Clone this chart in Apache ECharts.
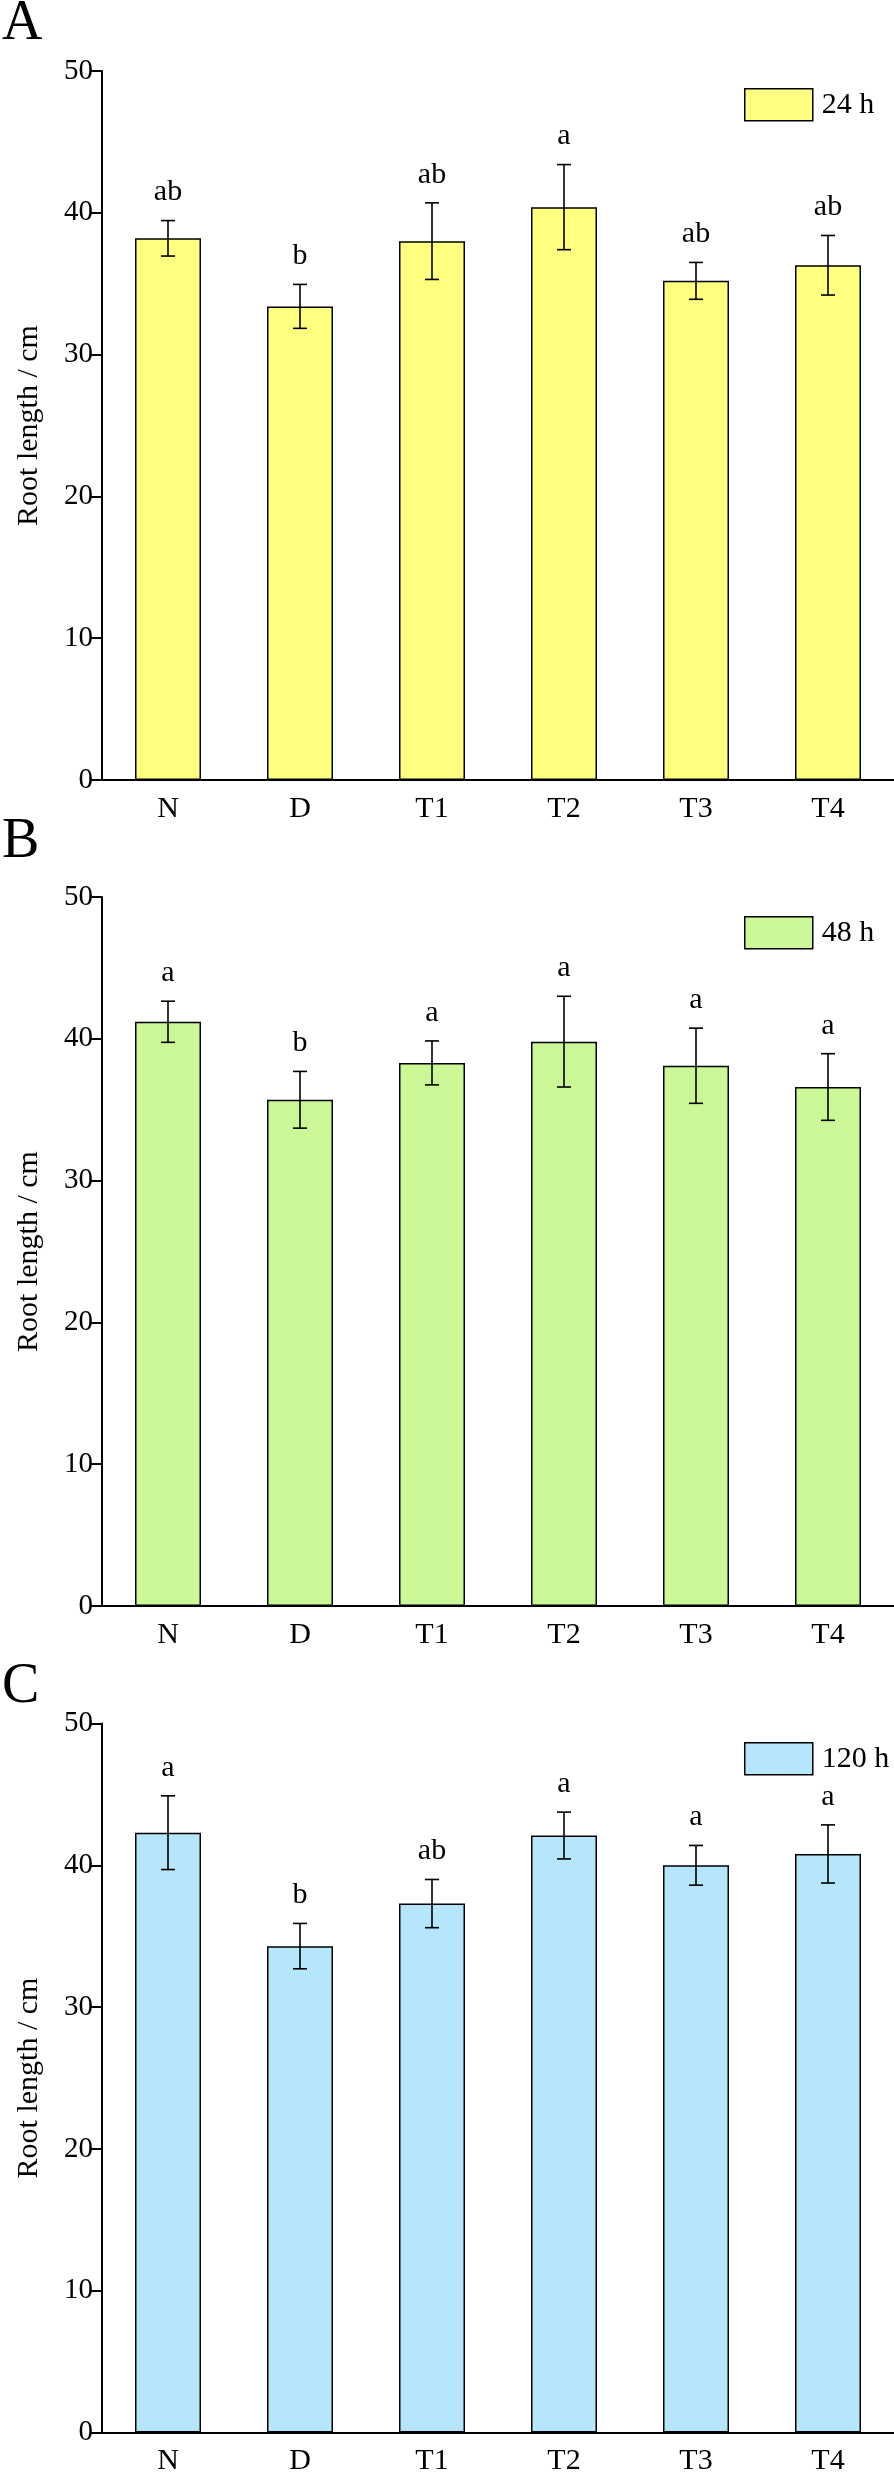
<!DOCTYPE html>
<html lang="en">
<head>
    <meta charset="UTF-8">
    <title>Root length</title>
    <script src="https://cdn.jsdelivr.net/npm/echarts@6/dist/echarts.min.js"></script>
    <style>
        body { margin: 0; background: #fff; }
    </style>
</head>
<body>
    <div id="main" style="width: 894px;height:2479px;"></div>
    <script>
// data
var categories = ['N', 'D', 'T1', 'T2', 'T3', 'T4'];
var yTicks = [0, 10, 20, 30, 40, 50];

var mean24 = [38.2, 33.4, 38.0, 40.4, 35.2, 36.3];
var err24 = [1.25, 1.55, 2.7, 3.0, 1.3, 2.1];
var sig24 = ['ab', 'b', 'ab', 'a', 'ab', 'ab'];

var mean48 = [41.2, 35.7, 38.3, 39.8, 38.1, 36.6];
var err48 = [1.45, 2.0, 1.55, 3.2, 2.65, 2.35];
var sig48 = ['a', 'b', 'a', 'a', 'a', 'a'];

var mean120 = [42.3, 34.3, 37.3, 42.1, 40.0, 40.8];
var err120 = [2.6, 1.6, 1.7, 1.65, 1.4, 2.05];
var sig120 = ['a', 'b', 'ab', 'a', 'a', 'a'];

var panels = [
    { letter: 'A', name: '24 h', color: '#FFFF80', mean: mean24, err: err24, sig: sig24, top: 71, legendTop: 83, letterY: 24 },
    { letter: 'B', name: '48 h', color: '#CCF797', mean: mean48, err: err48, sig: sig48, top: 897, legendTop: 911, letterY: 842 },
    { letter: 'C', name: '120 h', color: '#B5E6FB', mean: mean120, err: err120, sig: sig120, top: 1723.5, legendTop: 1737, letterY: 1687 }
];

var font = "'Liberation Serif', 'Times New Roman', serif";
var myChart = echarts.init(document.getElementById('main'));

function errRender(sig) {
    return function (params, api) {
        var x = api.value(0), m = api.value(1), e = api.value(2);
        var top = api.coord([x, m + e]);
        var bot = api.coord([x, m - e]);
        var hw = 7;
        var st = { stroke: '#000', lineWidth: 1.6 };
        return {
            type: 'group',
            children: [
                { type: 'line', shape: { x1: top[0], y1: top[1], x2: bot[0], y2: bot[1] }, style: st },
                { type: 'line', shape: { x1: top[0] - hw, y1: top[1], x2: top[0] + hw, y2: top[1] }, style: st },
                { type: 'line', shape: { x1: bot[0] - hw, y1: bot[1], x2: bot[0] + hw, y2: bot[1] }, style: st },
                {
                    type: 'text', x: top[0], y: top[1] - 13,
                    style: { text: sig[params.dataIndex], fill: '#000', font: '30px ' + font, align: 'center', verticalAlign: 'bottom' }
                }
            ]
        };
    };
}

var grid = [], xAxis = [], yAxis = [], series = [], legend = [], graphic = [];
panels.forEach(function (p, k) {
    grid.push({ left: 102, width: 792, top: p.top, height: 709 });
    xAxis.push({
        type: 'category', gridIndex: k, data: categories,
        axisLine: { lineStyle: { color: '#000', width: 2 } },
        axisTick: { alignWithLabel: true, length: 12, lineStyle: { color: '#000', width: 2 } },
        axisLabel: { color: '#000', fontSize: 30, fontFamily: font, margin: 14 }
    });
    yAxis.push({
        type: 'value', gridIndex: k, min: yTicks[0], max: yTicks[yTicks.length - 1], interval: 10,
        name: 'Root length / cm', nameLocation: 'middle', nameGap: 58,
        nameTextStyle: { color: '#000', fontSize: 30, fontFamily: font },
        axisLine: { show: true, lineStyle: { color: '#000', width: 2 } },
        axisTick: { show: true, length: 12, lineStyle: { color: '#000', width: 2 } },
        axisLabel: { color: '#000', fontSize: 29, fontFamily: font, margin: 9 },
        splitLine: { show: false }
    });
    series.push({
        name: p.name, type: 'bar', xAxisIndex: k, yAxisIndex: k,
        barWidth: '50%', data: p.mean,
        itemStyle: { color: p.color, borderColor: '#000', borderWidth: 1.5 }
    });
    series.push({
        type: 'custom', xAxisIndex: k, yAxisIndex: k, z: 5,
        renderItem: errRender(p.sig),
        data: p.mean.map(function (m, i) { return [i, m, p.err[i]]; })
    });
    legend.push({
        data: [p.name], left: 739, top: p.legendTop, icon: 'rect',
        itemWidth: 68, itemHeight: 32,
        itemStyle: { borderColor: '#000', borderWidth: 1.5 },
        textStyle: { color: '#000', fontSize: 30, fontFamily: font, padding: [0, 0, 0, 4] }
    });
    graphic.push({
        type: 'text', left: 2, top: p.letterY - 28,
        style: { text: p.letter, fill: '#000', font: '56px ' + font }
    });
});

var option = {
    animation: false,
    backgroundColor: '#fff',
    grid: grid,
    xAxis: xAxis,
    yAxis: yAxis,
    legend: legend,
    graphic: graphic,
    series: series
};
myChart.setOption(option);
    </script>
</body>
</html>
